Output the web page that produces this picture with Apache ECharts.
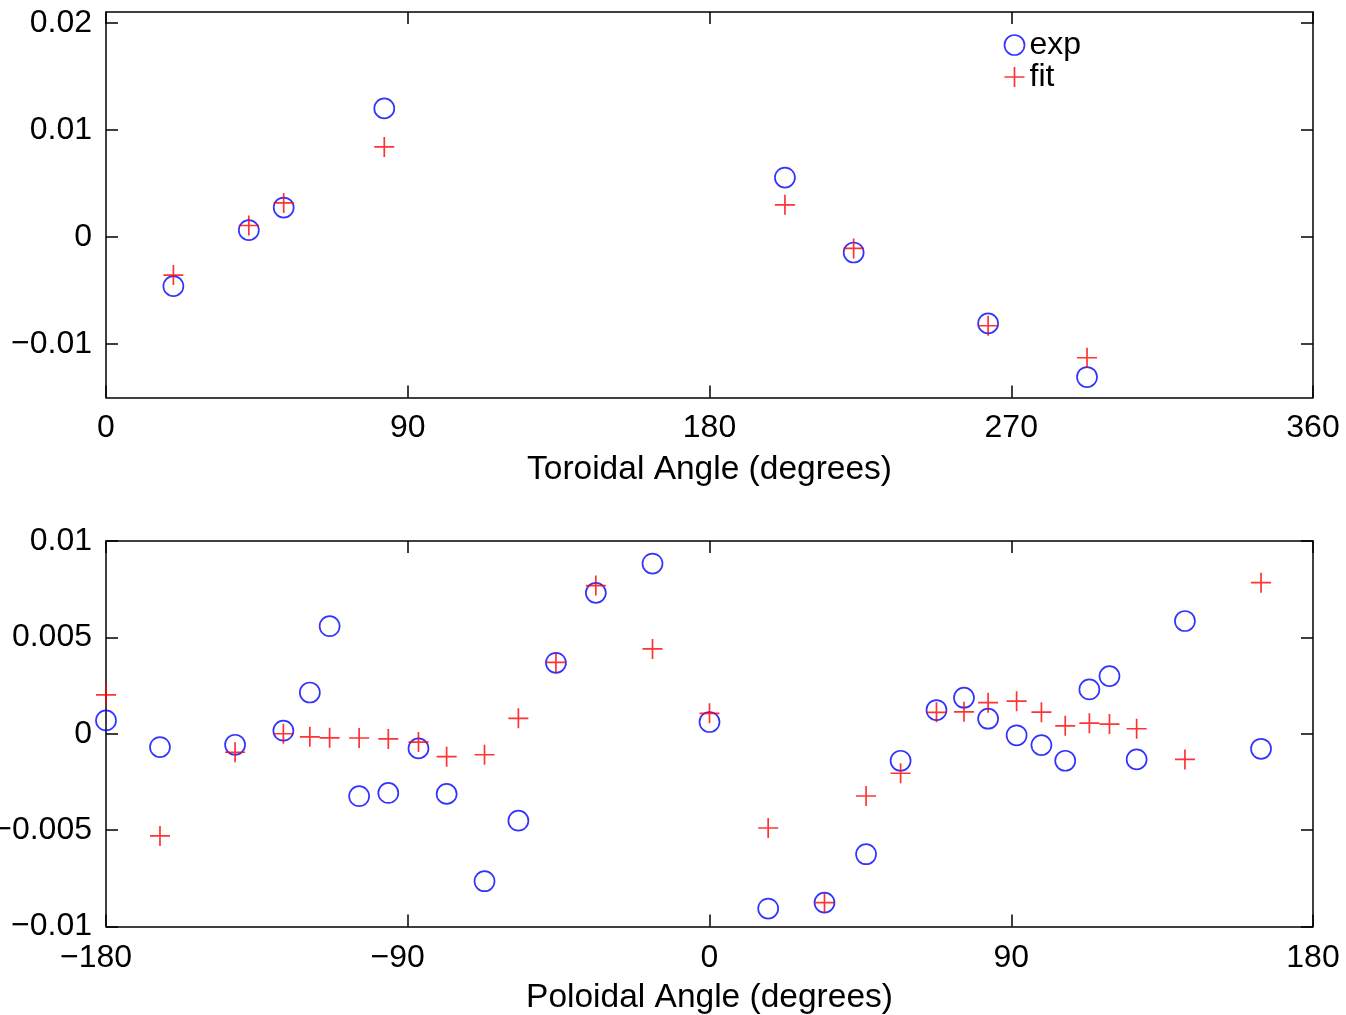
<!DOCTYPE html>
<html>
<head>
<meta charset="utf-8">
<script src="https://cdn.jsdelivr.net/npm/echarts@6/dist/echarts.min.js"></script>
<style>
html,body{margin:0;padding:0;background:#fff;}
#chart{width:1346px;height:1015px;}
</style>
</head>
<body>
<div id="chart"></div>
<script>
// ---- Data ----
var torAngle = [20.1, 42.6, 53.0, 83.0, 202.5, 223.0, 263.1, 292.6];
var torExp   = [-0.0046, 0.00063, 0.00274, 0.0120, 0.00554, -0.00146, -0.00808, -0.01309];
var torFit   = [-0.00357, 0.00106, 0.00317, 0.0084, 0.00299, -0.00108, -0.0083, -0.01129];

var polAngle = [-180, -163.9, -141.5, -127.1, -119.2, -113.3, -104.5, -95.8, -86.8,
                -78.4, -67.1, -57.0, -45.8, -33.9, -17.0, 0, 17.5, 34.3,
                46.7, 57.0, 67.7, 75.9, 83.1, 91.6, 99.0, 106.1, 113.3, 119.3, 127.4, 141.8, 164.5];
var polExp   = [0.00069, -0.00069, -0.00057, 0.00016, 0.00214, 0.00558, -0.00324, -0.00307, -0.00076,
                -0.00312, -0.00765, -0.00451, 0.00368, 0.00731, 0.00883, 0.00061, -0.00907, -0.00876,
                -0.00625, -0.0014, 0.00123, 0.00187, 0.00078, -0.00008, -0.00059, -0.0014, 0.0023, 0.00299, -0.00133, 0.00585, -0.00078];
var polFit   = [0.00202, -0.0053, -0.00096, 0.0, -0.00016, -0.00021, -0.00022, -0.00027, -0.00043,
                -0.00119, -0.00109, 0.0008, 0.0037, 0.00769, 0.0044, 0.00106, -0.00489, -0.00876,
                -0.00323, -0.00205, 0.00111, 0.00114, 0.00161, 0.00169, 0.00112, 0.00041, 0.00055, 0.0005, 0.00026, -0.00133, 0.00784];

var torYTicks = [-0.01, 0, 0.01, 0.02];
var seriesNames = ['exp', 'fit'];
var xNames = ['Toroidal Angle (degrees)', 'Poloidal Angle (degrees)'];

function zip(xs, ys) { return xs.map(function (x, i) { return [x, ys[i]]; }); }

var FONT = "'Liberation Sans', Arial, Helvetica, sans-serif";
var FS = 32;
var FS_NAME = 33.5;
var BLUE = '#0000ff', RED = '#ff0000', BLACK = '#000';
var PLUS = 'path://M0,-1L0,1M-1,0L1,0';
var MW = 1.7;

function fmtNum(v) {
  var s = String(+v.toPrecision(6));
  return s.replace('-', '\u2212');
}

var axisLineStyle = { show: true, onZero: false, lineStyle: { color: BLACK, width: 1.5 } };
var tickStyle = { show: true, inside: true, length: 12, lineStyle: { color: BLACK, width: 1.5 } };

function xAxisPair(gridIndex, min, max, name, negPad, margin, nameGap) {
  var labelMain = {
    show: true, margin: margin, color: BLACK, fontSize: FS, fontFamily: FONT,
    formatter: function (v) {
      var s = fmtNum(v);
      return (negPad && v < 0) ? '{n|' + s + '}' : s;
    },
    rich: { n: { padding: [0, 20, 0, 0], fontSize: FS, fontFamily: FONT, color: BLACK } }
  };
  return [
    { type: 'value', gridIndex: gridIndex, position: 'bottom', min: min, max: max, interval: 90,
      name: name, nameLocation: 'middle', nameGap: nameGap,
      nameTextStyle: { color: BLACK, fontSize: FS_NAME, fontFamily: FONT },
      axisLine: axisLineStyle, axisTick: tickStyle, axisLabel: labelMain, splitLine: { show: false } },
    { type: 'value', gridIndex: gridIndex, position: 'top', min: min, max: max, interval: 90,
      axisLine: axisLineStyle, axisTick: tickStyle, axisLabel: { show: false }, splitLine: { show: false } }
  ];
}

var yLabel = { show: true, margin: 14, color: BLACK, fontSize: FS, fontFamily: FONT,
  formatter: function (v) { return fmtNum(v); } };

var option = {
  animation: false,
  backgroundColor: '#fff',
  grid: [
    { left: 106, top: 12, width: 1207, height: 385.5, containLabel: false, outerBoundsMode: 'none' },
    { left: 106, top: 541, width: 1207, height: 385.5, containLabel: false, outerBoundsMode: 'none' }
  ],
  xAxis: [].concat(
    xAxisPair(0, 0, 360, xNames[0], false, 15, 55),
    xAxisPair(1, -180, 180, xNames[1], true, 16, 54)
  ),
  yAxis: [
    { type: 'value', gridIndex: 0, position: 'left', min: -0.015, max: 0.021, interval: 0.005,
      axisLine: axisLineStyle,
      axisTick: Object.assign({}, tickStyle, { customValues: torYTicks }),
      axisLabel: Object.assign({}, yLabel, { customValues: torYTicks }),
      splitLine: { show: false } },
    { type: 'value', gridIndex: 0, position: 'right', min: -0.015, max: 0.021, interval: 0.005,
      axisLine: axisLineStyle,
      axisTick: Object.assign({}, tickStyle, { customValues: torYTicks }),
      axisLabel: { show: false }, splitLine: { show: false } },
    { type: 'value', gridIndex: 1, position: 'left', min: -0.01, max: 0.01, interval: 0.005,
      axisLine: axisLineStyle, axisTick: tickStyle, axisLabel: yLabel, splitLine: { show: false } },
    { type: 'value', gridIndex: 1, position: 'right', min: -0.01, max: 0.01, interval: 0.005,
      axisLine: axisLineStyle, axisTick: tickStyle, axisLabel: { show: false }, splitLine: { show: false } }
  ],
  legend: {
    orient: 'vertical', left: 1002, top: 29, padding: 0,
    itemWidth: 20, itemHeight: 20, itemGap: 0, itemTextGap: 5,
    selectedMode: false,
    textStyle: { color: BLACK, fontSize: FS, fontFamily: FONT },
    data: [
      { name: seriesNames[0], icon: 'circle', itemStyle: { color: 'none', borderColor: BLUE, borderWidth: MW } },
      { name: seriesNames[1], icon: PLUS, itemStyle: { color: 'none', borderColor: RED, borderWidth: MW } }
    ]
  },
  series: [
    { type: 'scatter', name: seriesNames[0], xAxisIndex: 0, yAxisIndex: 0, clip: false,
      symbol: 'circle', symbolSize: 20, data: zip(torAngle, torExp),
      itemStyle: { color: 'none', borderColor: BLUE, borderWidth: MW }, emphasis: { disabled: true } },
    { type: 'scatter', name: seriesNames[1], xAxisIndex: 0, yAxisIndex: 0, clip: false,
      symbol: PLUS, symbolSize: 20, data: zip(torAngle, torFit),
      itemStyle: { color: 'none', borderColor: RED, borderWidth: MW }, emphasis: { disabled: true } },
    { type: 'scatter', name: seriesNames[0], xAxisIndex: 2, yAxisIndex: 2, clip: false,
      symbol: 'circle', symbolSize: 20, data: zip(polAngle, polExp),
      itemStyle: { color: 'none', borderColor: BLUE, borderWidth: MW }, emphasis: { disabled: true } },
    { type: 'scatter', name: seriesNames[1], xAxisIndex: 2, yAxisIndex: 2, clip: false,
      symbol: PLUS, symbolSize: 20, data: zip(polAngle, polFit),
      itemStyle: { color: 'none', borderColor: RED, borderWidth: MW }, emphasis: { disabled: true } }
  ]
};

var chart = echarts.init(document.getElementById('chart'), null, { renderer: 'canvas' });
chart.setOption(option);
</script>
</body>
</html>
